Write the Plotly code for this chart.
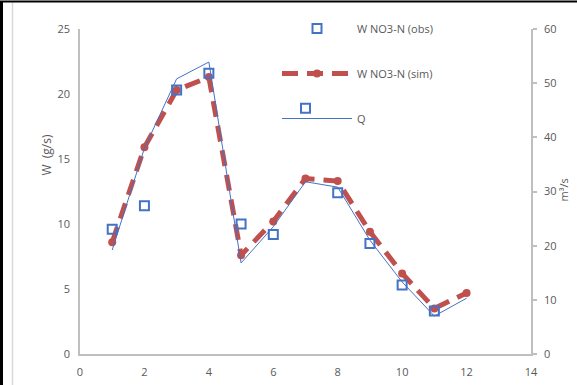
import plotly.graph_objects as go

x_vals = [1, 2, 3, 4, 5, 6, 7, 8, 9, 10, 11, 12]
w_obs = [9.6, 11.4, 20.3, 21.6, 10.0, 9.2, 18.9, 12.4, 8.5, 5.3, 3.3, None]
w_sim = [8.6, 15.9, 20.3, 21.3, 7.6, 10.2, 13.5, 13.3, 9.4, 6.2, 3.5, 4.7]
q_vals = [19.2, 38.0, 50.8, 53.9, 16.8, 23.5, 31.8, 30.8, 21.0, 13.3, 7.0, 10.3]

blue = "#4472C4"
red = "#C0504D"
gray_txt = "#595959"
axis_col = "#BFBFBF"
FONT = "Open Sans"

fig = go.Figure()
fig.add_trace(go.Scatter(
    x=x_vals, y=w_sim, name="W NO3-N (sim)", mode="lines+markers",
    line=dict(color=red, width=5, dash="16px,9px"),
    marker=dict(symbol="circle", size=8, color=red),
    legendgroup="b", legendrank=2))
fig.add_trace(go.Scatter(
    x=x_vals, y=w_obs, name="W NO3-N (obs)", mode="markers",
    marker=dict(symbol="square-open", size=9, color=blue, line=dict(width=2, color=blue)),
    legendgroup="a", legendrank=1))
fig.add_trace(go.Scatter(
    x=x_vals, y=q_vals, name="Q", mode="lines", yaxis="y2",
    line=dict(color=blue, width=1),
    legendgroup="c", legendrank=3))

W, H = 577, 385
L, R, T, B = 80, 46, 29, 31
pw = W - L - R
ph = H - T - B

def px_x(p):
    return (p - L) / pw

def px_y(p):
    return (H - B - p) / ph

fig.update_layout(
    width=W, height=H, autosize=False,
    margin=dict(l=L, r=R, t=T, b=B, pad=0, autoexpand=False),
    paper_bgcolor="white", plot_bgcolor="white",
    font=dict(family=FONT, size=11, color=gray_txt),
    showlegend=True,
    legend=dict(x=px_x(277), y=px_y(14), xanchor="left", yanchor="top",
                bgcolor="rgba(0,0,0,0)", traceorder="grouped", tracegroupgap=26,
                itemwidth=70, font=dict(family=FONT, size=11, color=gray_txt)),
    xaxis=dict(range=[0, 14], tickvals=[0, 2, 4, 6, 8, 10, 12, 14], automargin=False,
               showgrid=False, zeroline=False, showline=True,
               linecolor=axis_col, linewidth=1.5, ticks="",
               ticklabelstandoff=7, tickfont=dict(size=11, color=gray_txt)),
    yaxis=dict(range=[0, 25], tickvals=[0, 5, 10, 15, 20, 25], automargin=False,
               showgrid=False, zeroline=False, showline=True,
               linecolor=axis_col, linewidth=1.5, ticks="",
               ticklabelstandoff=6, tickfont=dict(size=11, color=gray_txt)),
    yaxis2=dict(range=[0, 60], tickvals=[0, 10, 20, 30, 40, 50, 60], automargin=False,
                overlaying="y", side="right",
                showgrid=False, zeroline=False, showline=True,
                linecolor=axis_col, linewidth=1.5, ticks="outside", ticklen=4,
                tickcolor=axis_col, tickwidth=1.5,
                ticklabelstandoff=5, tickfont=dict(size=11, color=gray_txt)),
    annotations=[
        dict(text="W  (g/s)", xref="paper", yref="paper", x=px_x(35), y=px_y(155),
             showarrow=False, textangle=-90, font=dict(size=12, color=gray_txt)),
        dict(text="m³/s", xref="paper", yref="paper", x=px_x(572), y=px_y(190),
             showarrow=False, textangle=-90, font=dict(size=11, color=gray_txt)),
    ],
    shapes=[
        dict(type="line", xref="paper", yref="paper", x0=px_x(12.5), x1=px_x(12.5),
             y0=px_y(2), y1=px_y(386), line=dict(color="#D9D9D9", width=1.5)),
        dict(type="line", xref="paper", yref="paper", x0=px_x(1.5), x1=px_x(1.5),
             y0=px_y(1), y1=px_y(386), line=dict(color="black", width=3)),
        dict(type="line", xref="paper", yref="paper", x0=px_x(0), x1=px_x(578),
             y0=px_y(1.5), y1=px_y(1.5), line=dict(color="black", width=2)),
    ],
)

fig.write_html("out.html",
               config={"responsive": False, "displayModeBar": False},
               post_script="document.body.style.margin='0';")
